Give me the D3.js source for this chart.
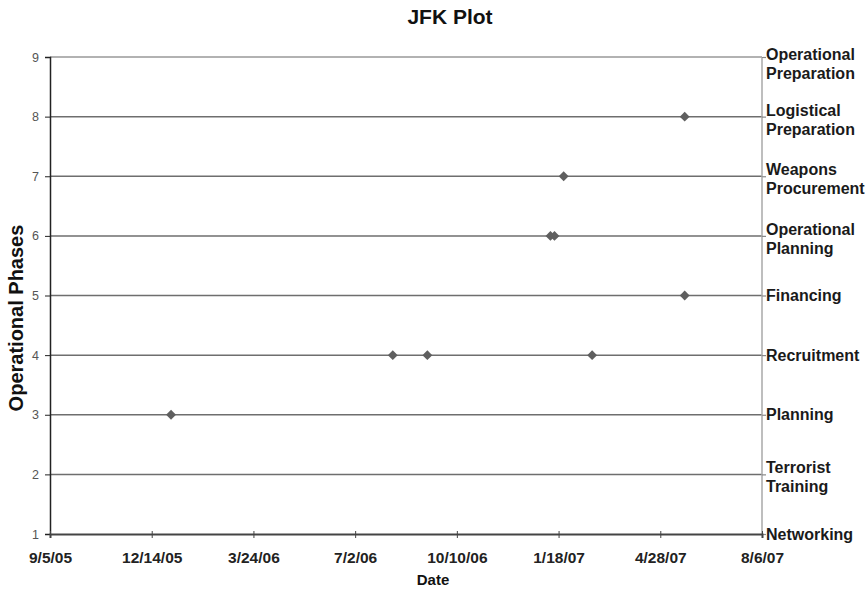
<!DOCTYPE html>
<html>
<head>
<meta charset="utf-8">
<script src="https://cdnjs.cloudflare.com/ajax/libs/d3/7.8.5/d3.min.js"></script>
<style>
  body { margin: 0; background: #fff; }
  text { font-family: "Liberation Sans", Arial, sans-serif; }
</style>
</head>
<body>
<div id="container"></div>
<script>
// data
var dates = ["2006-01-02", "2006-08-08", "2006-09-11", "2007-02-20", "2007-05-22",
             "2007-01-10", "2007-01-14", "2007-01-23", "2007-05-22"];
var phases = [3, 4, 4, 4, 5, 6, 6, 7, 8];

var phaseNames = ["Networking", "Terrorist\nTraining", "Planning", "Recruitment", "Financing",
                  "Operational\nPlanning", "Weapons\nProcurement", "Logistical\nPreparation",
                  "Operational\nPreparation"];
var xTickLabels = ["9/5/05", "12/14/05", "3/24/06", "7/2/06", "10/10/06", "1/18/07", "4/28/07", "8/6/07"];
var yTicks = [1, 2, 3, 4, 5, 6, 7, 8, 9];

var parse = d3.timeParse("%Y-%m-%d");
var fmt = d3.timeParse("%-m/%-d/%y");

var margin = { top: 57, right: 106, bottom: 56, left: 50 },
    width = 868 - margin.left - margin.right,
    height = 590 - margin.top - margin.bottom;

var svg = d3.select("#container")
    .append("svg")
    .attr("width", 868)
    .attr("height", 590);

var g = svg.append("g")
    .attr("transform", "translate(" + margin.left + "," + margin.top + ")");

var tickDates = xTickLabels.map(function (d) { return fmt(d); });

var x = d3.scaleTime()
    .domain([tickDates[0], tickDates[tickDates.length - 1]])
    .range([0, width]);

var y = d3.scaleLinear()
    .domain([1, 9])
    .range([height, 0]);

// gridlines
g.append("g")
    .selectAll("line")
    .data(yTicks.slice(1))
    .enter()
    .append("line")
    .attr("x1", 0)
    .attr("x2", width)
    .attr("y1", function (d) { return y(d); })
    .attr("y2", function (d) { return y(d); })
    .style("stroke", function (d) { return d == 9 ? "#999" : "#6e6e6e"; })
    .style("stroke-width", 1.5);

// right border with phase labels
g.append("line")
    .attr("x1", width).attr("x2", width)
    .attr("y1", 0).attr("y2", height)
    .style("stroke", "#a8a8a8")
    .style("stroke-width", 1.5);

var right = g.append("g")
    .attr("transform", "translate(" + width + ",0)")
    .call(d3.axisRight(y).tickValues(yTicks).tickSize(4).tickFormat(""));
right.select(".domain").remove();
right.selectAll("line").style("stroke", "#888").style("stroke-width", 1.2);

var names = g.append("g")
    .selectAll("text")
    .data(yTicks)
    .enter()
    .append("text")
    .attr("x", width + 4)
    .attr("y", function (d) { return y(d); })
    .style("font-size", "16px")
    .style("font-weight", "bold")
    .style("fill", "#1a1a1a");

names.each(function (d, i) {
    var lines = phaseNames[i].split("\n");
    var sel = d3.select(this);
    var off = lines.length == 1 ? 5.5 : (d == 9 ? 3 : -1);
    lines.forEach(function (l, j) {
        sel.append("tspan")
            .attr("x", width + 4)
            .attr("dy", j == 0 ? off : 19)
            .text(l);
    });
});

// left axis
var left = g.append("g")
    .call(d3.axisLeft(y).tickValues(yTicks).tickSize(5).tickPadding(6));
left.select(".domain").style("stroke", "#222").style("stroke-width", 1.5);
left.selectAll("line").style("stroke", "#222");
left.selectAll("text")
    .style("font-size", "12.5px")
    .style("fill", "#555")
    .style("font-family", "'Liberation Sans', Arial, sans-serif");

// bottom axis
var bottom = g.append("g")
    .attr("transform", "translate(0," + height + ")")
    .call(d3.axisBottom(x).tickValues(tickDates).tickSize(4).tickPadding(14)
        .tickFormat(function (d, i) { return xTickLabels[i]; }));
bottom.select(".domain").style("stroke", "#444").style("stroke-width", 2);
bottom.selectAll("line").attr("y1", -3).style("stroke", "#444");
bottom.selectAll("text")
    .style("font-size", "15.5px")
    .style("font-weight", "bold")
    .style("fill", "#222")
    .style("font-family", "'Liberation Sans', Arial, sans-serif");

// points
g.selectAll("path.pt")
    .data(dates)
    .enter()
    .append("path")
    .attr("class", "pt")
    .attr("d", d3.symbol().type(d3.symbolDiamond2).size(62))
    .attr("transform", function (d, i) {
        return "translate(" + x(parse(d)) + "," + y(phases[i]) + ")";
    })
    .style("fill", "#5f5f5f");

// titles
svg.append("text")
    .attr("x", 450)
    .attr("y", 24)
    .attr("text-anchor", "middle")
    .style("font-size", "21px")
    .style("font-weight", "bold")
    .style("fill", "#111")
    .text("JFK Plot");

svg.append("text")
    .attr("x", 433)
    .attr("y", 585)
    .attr("text-anchor", "middle")
    .style("font-size", "15px")
    .style("font-weight", "bold")
    .style("fill", "#111")
    .text("Date");

svg.append("text")
    .attr("transform", "translate(23,318) rotate(-90)")
    .attr("text-anchor", "middle")
    .style("font-size", "20px")
    .style("font-weight", "bold")
    .style("fill", "#111")
    .text("Operational Phases");
</script>
</body>
</html>
